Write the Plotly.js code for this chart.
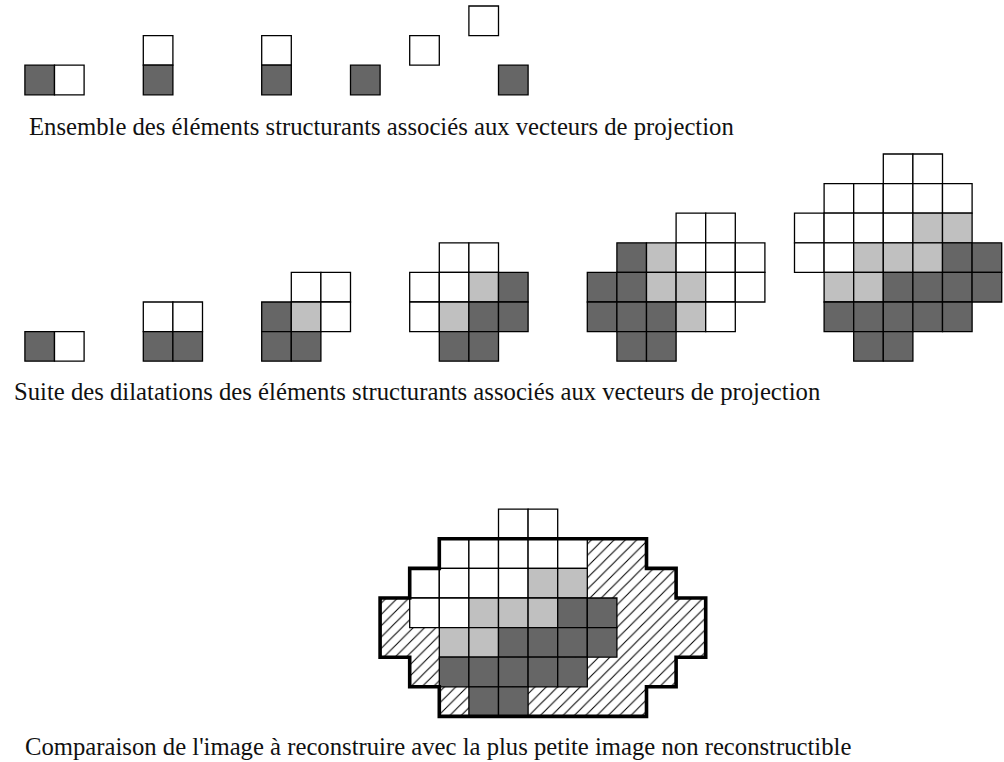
<!DOCTYPE html>
<html><head><meta charset="utf-8">
<script src="https://cdn.plot.ly/plotly-3.0.1.min.js"></script>
<style>html,body{margin:0;padding:0;background:#fff}</style>
</head><body>
<div id="chart" style="width:1004px;height:762px"></div>
<script>
// ---- captions ----
const captions = [
  "Ensemble des éléments structurants associés aux vecteurs de projection",
  "Suite des dilatations des éléments structurants associés aux vecteurs de projection",
  "Comparaison de l'image à reconstruire avec la plus petite image non reconstructible"
];
// ---- structuring elements (D = dark, G = light grey, W = white, . = empty) ----
const element1 = ["DW"];
const element2 = ["W", "D"];
const element3 = ["W", "D"];
const element4 = ["..W", "D.."];
const element5 = ["W.", "..", ".D"];
// ---- successive dilations ----
const dilation1 = ["DW"];
const dilation2 = ["WW", "DD"];
const dilation3 = [".WW", "DGW", "DD."];
const dilation4 = [".WW.", "WWGD", "WGDD", ".DD."];
const dilation5 = ["...WW.", ".DGWWW", "DDGGWW", "DDDGW.", ".DD..."];
const dilation6 = ["...WW..", ".WWWWW.", "WWWWGG.", "WWGGGDD", ".GGDDDD", ".DDDDD.", "..DD..."];
// ---- image to reconstruct: boundary vertices (cell units) ----
const outlineCol = [2, 9, 9, 10, 10, 11, 11, 10, 10, 9, 9, 2, 2, 1, 1, 0, 0, 1, 1, 2, 2];
const outlineRow = [1, 1, 2, 2, 3, 3, 5, 5, 6, 6, 7, 7, 6, 6, 5, 5, 3, 3, 2, 2, 1];

// ---- layout (positions in grid cells) ----
const CELL = 29.6, OX = 24.9, OY = 6;
const W = 1004, H = 762;
const px2x = p => (p - OX) / CELL;
const px2y = p => (p - OY) / CELL;
const fills = {D: '#666666', G: '#c0c0c0', W: '#ffffff'};

const placements = [
  [element1, 0, 2], [element2, 4, 1], [element3, 8, 1], [element4, 11, 1], [element5, 15, 0],
  [dilation1, 0, 11], [dilation2, 4, 10], [dilation3, 8, 9], [dilation4, 13, 8],
  [dilation5, 19, 7], [dilation6, 26, 5],
  [dilation6, 13, 17]
];
const outlineOffset = [12, 17];

const shapes = [];
placements.forEach(([grid, c0, r0]) => {
  grid.forEach((row, r) => {
    [...row].forEach((ch, c) => {
      if (ch === '.') return;
      shapes.push({
        type: 'rect', xref: 'x', yref: 'y',
        x0: c0 + c, x1: c0 + c + 1, y0: r0 + r, y1: r0 + r + 1,
        fillcolor: fills[ch], line: {color: '#000', width: 1.3}, layer: 'above'
      });
    });
  });
});
const ox = outlineCol.map(v => v + outlineOffset[0]);
const oy = outlineRow.map(v => v + outlineOffset[1]);
let path = '';
ox.forEach((x, i) => { path += (i === 0 ? 'M' : 'L') + x + ',' + oy[i] + ' '; });
path += 'Z';
shapes.push({type: 'path', xref: 'x', yref: 'y', path: path,
  line: {color: '#000', width: 3.6}, fillcolor: 'rgba(0,0,0,0)', layer: 'above'});

const hatch = {
  type: 'scatter', x: ox, y: oy, mode: 'none', fill: 'toself',
  fillcolor: '#ffffff',
  fillpattern: {shape: '/', size: 8, solidity: 0.13, fgcolor: '#000', bgcolor: '#fff'},
  hoverinfo: 'skip', showlegend: false
};

const capFont = {family: 'Liberation Serif', size: 24.7, color: '#111'};
const capPos = [[26.5, 126], [11.5, 391.5], [22.5, 746]];
const annotations = captions.map((t, i) => ({
  text: t, xref: 'x', yref: 'y', x: px2x(capPos[i][0]), y: px2y(capPos[i][1]),
  xanchor: 'left', yanchor: 'middle', showarrow: false, font: capFont
}));

const layout = {
  width: W, height: H,
  margin: {l: 0, r: 0, t: 0, b: 0, pad: 0},
  paper_bgcolor: '#fff', plot_bgcolor: '#fff',
  showlegend: false,
  xaxis: {range: [px2x(0), px2x(W)], visible: false, fixedrange: true},
  yaxis: {range: [px2y(H), px2y(0)], visible: false, fixedrange: true},
  shapes: shapes,
  annotations: annotations
};
Plotly.newPlot('chart', [hatch], layout, {staticPlot: true, displayModeBar: false});
</script>
</body></html>
